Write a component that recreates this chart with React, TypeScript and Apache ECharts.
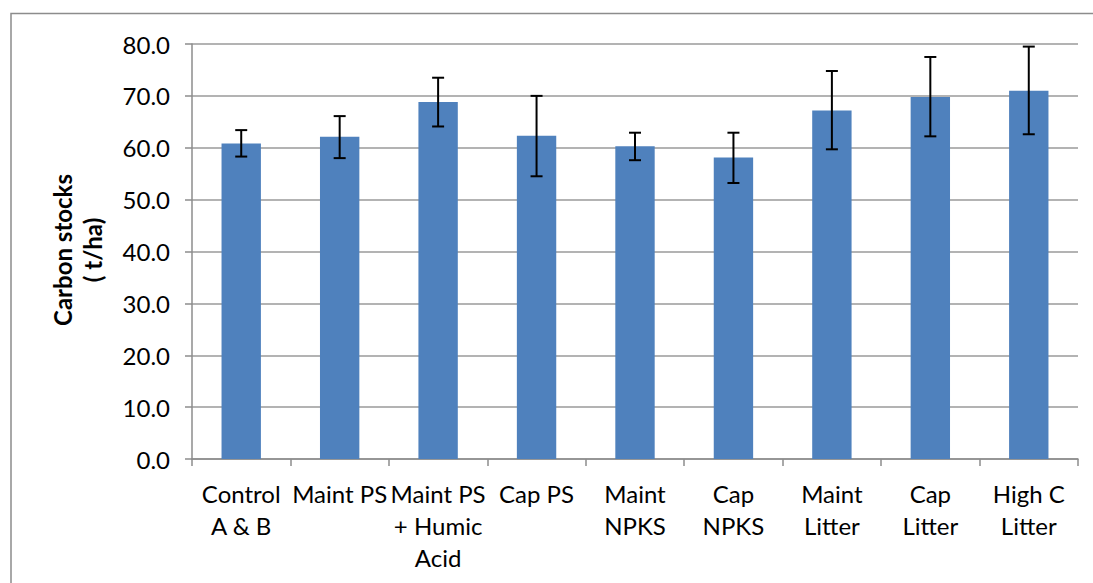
import React, { useEffect, useRef } from "react";
import * as echarts from "echarts";

const categories = [
  "Control\nA & B",
  "Maint PS",
  "Maint PS\n+ Humic\nAcid",
  "Cap PS",
  "Maint\nNPKS",
  "Cap\nNPKS",
  "Maint\nLitter",
  "Cap\nLitter",
  "High C\nLitter",
];
const carbonStocks = [60.8, 62.1, 68.8, 62.3, 60.3, 58.1, 67.2, 69.8, 71.0];
const errorLow = [58.3, 58.0, 64.1, 54.5, 57.6, 53.2, 59.7, 62.2, 62.6];
const errorHigh = [63.4, 66.1, 73.5, 70.0, 62.9, 62.9, 74.8, 77.5, 79.5];
const yTicks = { min: 0, max: 80, interval: 10 };
const yTitle = "Carbon stocks\n( t/ha)";

const FONT = "Lato, 'Open Sans', sans-serif";

export default function App() {
  const ref = useRef<HTMLDivElement>(null);
  useEffect(() => {
    document.body.style.margin = "0";
    const chart = echarts.init(ref.current!, null, { renderer: "svg" });
    const errData = categories.map((_, i) => [i, errorLow[i], errorHigh[i]]);
    chart.setOption({
      animation: false,
      backgroundColor: "#ffffff",
      grid: { left: 192, right: 15, top: 44, bottom: 124, containLabel: false },
      xAxis: {
        type: "category",
        data: categories,
        axisLine: { show: true, lineStyle: { color: "#8c8c8c", width: 1.5 } },
        axisTick: { show: true, length: 7, lineStyle: { color: "#8c8c8c", width: 1.5 } },
        axisLabel: {
          interval: 0,
          margin: 18,
          color: "#000",
          fontFamily: FONT,
          fontSize: 24,
          lineHeight: 32,
        },
      },
      yAxis: {
        type: "value",
        min: yTicks.min,
        max: yTicks.max,
        interval: yTicks.interval,
        axisLine: { show: true, lineStyle: { color: "#8c8c8c", width: 1.5 } },
        axisTick: { show: true, length: 7, lineStyle: { color: "#8c8c8c", width: 1.5 } },
        splitLine: { show: true, lineStyle: { color: "#9a9a9a", width: 1.5 } },
        axisLabel: {
          margin: 22,
          color: "#000",
          fontFamily: FONT,
          fontSize: 24,
          formatter: (v: number) => v.toFixed(1),
        },
      },
      graphic: [
        {
          type: "rect",
          shape: { x: 11, y: 13.5, width: 1200, height: 700 },
          style: { fill: "none", stroke: "#8c8c8c", lineWidth: 1.5 },
          silent: true,
        },
        {
          type: "text",
          x: 77,
          y: 250,
          rotation: Math.PI / 2,
          style: {
            text: yTitle,
            fontFamily: FONT,
            fontSize: 24,
            fontWeight: "bold",
            lineHeight: 30,
            fill: "#000",
            align: "center",
            verticalAlign: "middle",
          },
        },
      ],
      series: [
        {
          type: "bar",
          data: carbonStocks,
          barWidth: "40%",
          itemStyle: { color: "#4f81bd" },
        },
        {
          type: "custom",
          data: errData,
          z: 10,
          renderItem: (params: any, api: any) => {
            const x = api.value(0);
            const lo = api.coord([x, api.value(1)]);
            const hi = api.coord([x, api.value(2)]);
            const cap = 6;
            const style = { stroke: "#000", lineWidth: 2 };
            return {
              type: "group",
              children: [
                { type: "line", shape: { x1: lo[0], y1: lo[1], x2: hi[0], y2: hi[1] }, style },
                { type: "line", shape: { x1: hi[0] - cap, y1: hi[1], x2: hi[0] + cap, y2: hi[1] }, style },
                { type: "line", shape: { x1: lo[0] - cap, y1: lo[1], x2: lo[0] + cap, y2: lo[1] }, style },
              ],
            };
          },
        },
      ],
    });
    return () => chart.dispose();
  }, []);
  return <div ref={ref} style={{ width: 1093, height: 583 }} />;
}
